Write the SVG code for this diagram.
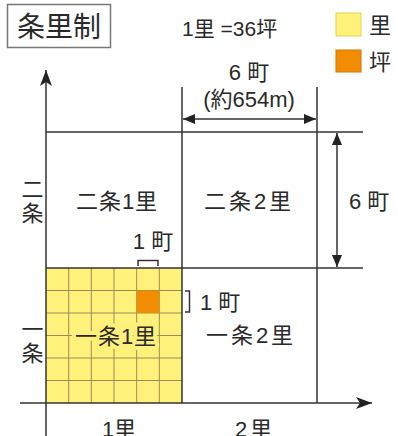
<svg xmlns="http://www.w3.org/2000/svg" width="398" height="436" viewBox="0 0 398 436">
<defs>
<marker id="ah" viewBox="0 0 12 10" refX="12" refY="5" markerWidth="12" markerHeight="10" markerUnits="userSpaceOnUse" orient="auto-start-reverse"><path d="M0,0 L12,5 L0,10 Z" fill="#222"/></marker>
<marker id="ax" viewBox="0 0 16 12" refX="16" refY="6" markerWidth="16" markerHeight="12" markerUnits="userSpaceOnUse" orient="auto"><path d="M0,0 L16,6 L0,12 L4,6 Z" fill="#222"/></marker>
</defs>
<style>
text{font-family:"Liberation Sans","Noto Sans CJK JP",sans-serif;fill:#2a2a2a;}
.l{stroke:#333;stroke-width:1.5;fill:none;}
.g{stroke:#9a8c5a;stroke-width:1;}
.c{font-size:22px;text-anchor:middle;}
.v{font-size:22px;writing-mode:vertical-rl;}
.halo{stroke:#fdf07a;stroke-width:8;stroke-linejoin:round;paint-order:stroke;}
</style>
<rect width="398" height="436" fill="#fff"/>
<g id="title"><rect x="7.5" y="4.5" width="103" height="43" fill="#fff" stroke="#777" stroke-width="1.5"/><text x="59" y="37" font-size="28" text-anchor="middle">条里制</text></g>
<g id="legend">
<text x="182" y="36" font-size="21">1里 =36坪</text>
<rect x="336" y="13" width="25" height="23" fill="#fef27a" stroke="#e6d25a"/>
<text x="369" y="33" font-size="22">里</text>
<rect x="336" y="50" width="25" height="22" fill="#f28c00" stroke="#d07800"/>
<text x="369" y="70" font-size="22">坪</text>
</g>
<g id="ichijo1ri">
<rect x="46" y="268" width="136" height="135" fill="#fef27a"/>
<g class="g">
<line x1="68.7" y1="268" x2="68.7" y2="403"/><line x1="91.3" y1="268" x2="91.3" y2="403"/><line x1="114" y1="268" x2="114" y2="403"/><line x1="136.7" y1="268" x2="136.7" y2="403"/><line x1="159.3" y1="268" x2="159.3" y2="403"/>
<line x1="46" y1="290.5" x2="182" y2="290.5"/><line x1="46" y1="313" x2="182" y2="313"/><line x1="46" y1="335.5" x2="182" y2="335.5"/><line x1="46" y1="358" x2="182" y2="358"/><line x1="46" y1="380.5" x2="182" y2="380.5"/>
</g>
<rect x="136.7" y="290.5" width="22.6" height="22.5" fill="#f28c00"/>
<text class="c halo" x="116" y="344" letter-spacing="1">一条1里</text>
</g>
<g id="connectors">
<line class="l" x1="46" y1="132" x2="363" y2="132"/>
<line class="l" x1="46" y1="268" x2="363" y2="268"/>
<line class="l" x1="182" y1="87" x2="182" y2="403"/>
<line class="l" x1="317" y1="87" x2="317" y2="403"/>
<line class="l" x1="46" y1="436" x2="46" y2="70" marker-end="url(#ax)"/>
<line class="l" x1="20" y1="403" x2="372" y2="403" marker-end="url(#ax)"/>
<line class="l" x1="183" y1="119" x2="316" y2="119" marker-start="url(#ah)" marker-end="url(#ah)"/>
<line class="l" x1="337" y1="133" x2="337" y2="267" marker-start="url(#ah)" marker-end="url(#ah)"/>
<path class="l" d="M138,266 V260.5 H158 V266" stroke-width="1.2"/>
<path class="l" d="M185,291 H189.5 V312 H185" stroke-width="1.2"/>
</g>
<g id="nijo1ri"><text class="c" x="117" y="209" letter-spacing="1">二条1里</text></g>
<g id="nijo2ri"><text class="c" x="249" y="209" letter-spacing="3">二条2里</text></g>
<g id="ichijo2ri"><text class="c" x="251" y="343" letter-spacing="3">一条2里</text></g>
<g id="labels">
<text class="c" x="249" y="80">6 町</text>
<text class="c" x="249" y="107">(約654m)</text>
<text x="349" y="209" font-size="22">6 町</text>
<text class="c" x="153" y="249">1 町</text>
<text x="200" y="310" font-size="22">1 町</text>
<text class="v" x="30" y="178" letter-spacing="2">二条</text>
<text class="v" x="30" y="318" letter-spacing="2">一条</text>
<text class="c" x="119" y="437">1里</text>
<text class="c" x="255" y="437" letter-spacing="3">2里</text>
</g>
</svg>
